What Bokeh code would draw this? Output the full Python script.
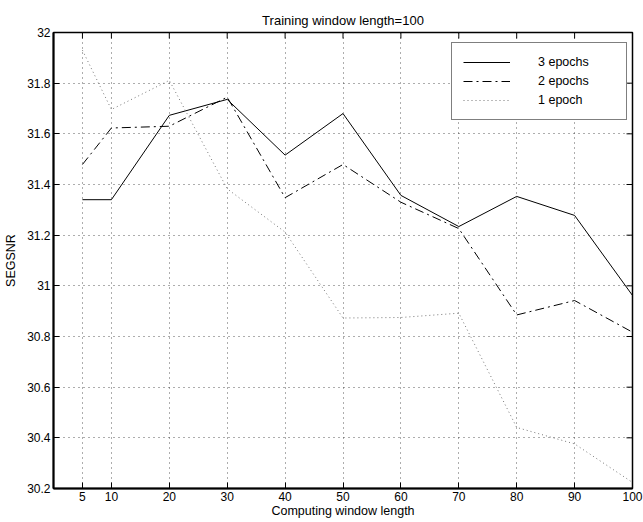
import math
from bokeh.plotting import figure
from bokeh.models import (Legend, LegendItem, FixedTicker, NumeralTickFormatter, Range1d)
from bokeh.embed import file_html
from bokeh.resources import INLINE

# ---- data ----
window = [5, 10, 20, 30, 40, 50, 60, 70, 80, 90, 100]
epochs3 = [31.34, 31.34, 31.673, 31.736, 31.516, 31.68, 31.357, 31.234, 31.353, 31.278, 30.962]
epochs2 = [31.479, 31.623, 31.630, 31.745, 31.348, 31.479, 31.33, 31.226, 30.885, 30.942, 30.817]
epoch1 = [31.93, 31.696, 31.811, 31.383, 31.212, 30.873, 30.875, 30.892, 30.441, 30.376, 30.224]
x_ticks = [5, 10, 20, 30, 40, 50, 60, 70, 80, 90, 100]
y_ticks = [30.2, 30.4, 30.6, 30.8, 31.0, 31.2, 31.4, 31.6, 31.8, 32.0]
X_MIN, X_MAX = 0, 100
Y_MIN, Y_MAX = 30.2, 32

FONT = "Liberation Sans"
FS_TICK = "12px"
FS_LAB = "12.5px"

p = figure(width=643, height=522, output_backend="svg", toolbar_location=None,
           x_range=Range1d(X_MIN, X_MAX), y_range=Range1d(Y_MIN, Y_MAX),
           min_border_left=53, min_border_right=11, min_border_top=32,
           min_border_bottom=34, title="Training window length=100")

p.title.text_font = FONT
p.title.text_font_size = "13px"
p.title.text_font_style = "normal"
p.title.text_color = "black"
p.title.align = "center"
p.title.standoff = 10
p.title.offset = 0

p.outline_line_color = "black"
p.outline_line_width = 1.5
p.background_fill_color = "white"
p.border_fill_color = "white"

for ax in (p.xaxis[0], p.yaxis[0]):
    ax.axis_line_width = 2
    ax.axis_line_color = "black"
    ax.major_tick_in = 6
    ax.major_tick_out = 0
    ax.major_tick_line_width = 1
    ax.major_tick_line_color = "black"
    ax.minor_tick_line_color = None
    ax.major_label_text_font = FONT
    ax.major_label_text_font_size = FS_TICK
    ax.major_label_text_color = "black"
    ax.axis_label_text_font = FONT
    ax.axis_label_text_font_size = FS_LAB
    ax.axis_label_text_font_style = "normal"
    ax.axis_label_text_color = "black"
    ax.major_label_standoff = 3

p.xaxis[0].ticker = FixedTicker(ticks=x_ticks)
p.yaxis[0].ticker = FixedTicker(ticks=y_ticks)
p.yaxis[0].formatter = NumeralTickFormatter(format="0.[0]")
p.xaxis[0].axis_label = "Computing window length"
p.yaxis[0].axis_label = "SEGSNR"
p.xaxis[0].axis_label_standoff = 0
p.yaxis[0].axis_label_standoff = 6

for g in (p.xgrid[0], p.ygrid[0]):
    g.grid_line_color = "#333333"
    g.grid_line_dash = "1 4"
    g.grid_line_width = 1
    g.grid_line_alpha = 0.8
p.xgrid[0].ticker = FixedTicker(ticks=x_ticks)
p.ygrid[0].ticker = FixedTicker(ticks=y_ticks)

# inward tick marks on the top and right edges (half of each dash is clipped away)
p.scatter(x=x_ticks, y=[Y_MAX] * len(x_ticks), marker="dash", angle=math.pi / 2,
          size=12, line_color="black", line_width=1)
p.scatter(x=[X_MAX] * len(y_ticks), y=y_ticks, marker="dash",
          size=12, line_color="black", line_width=1)

r3 = p.line(window, epochs3, line_color="black", line_width=1)
r2 = p.line(window, epochs2, line_color="black", line_width=1, line_dash="9 4 2 4")
r1 = p.line(window, epoch1, line_color="#777777", line_width=1, line_dash="1 3")

legend = Legend(items=[LegendItem(label="3 epochs", renderers=[r3]),
                       LegendItem(label="2 epochs", renderers=[r2]),
                       LegendItem(label="1 epoch", renderers=[r1])],
                location=(398, 368), margin=0, padding=11, spacing=3,
                glyph_width=47, glyph_height=16, label_height=16,
                label_standoff=28, label_width=77,
                border_line_color="black", border_line_width=1.5,
                background_fill_color="white", background_fill_alpha=1,
                label_text_font=FONT, label_text_font_size=FS_LAB,
                label_text_color="black")
p.add_layout(legend, "center")

open("out.html", "w").write(file_html(p, INLINE))
